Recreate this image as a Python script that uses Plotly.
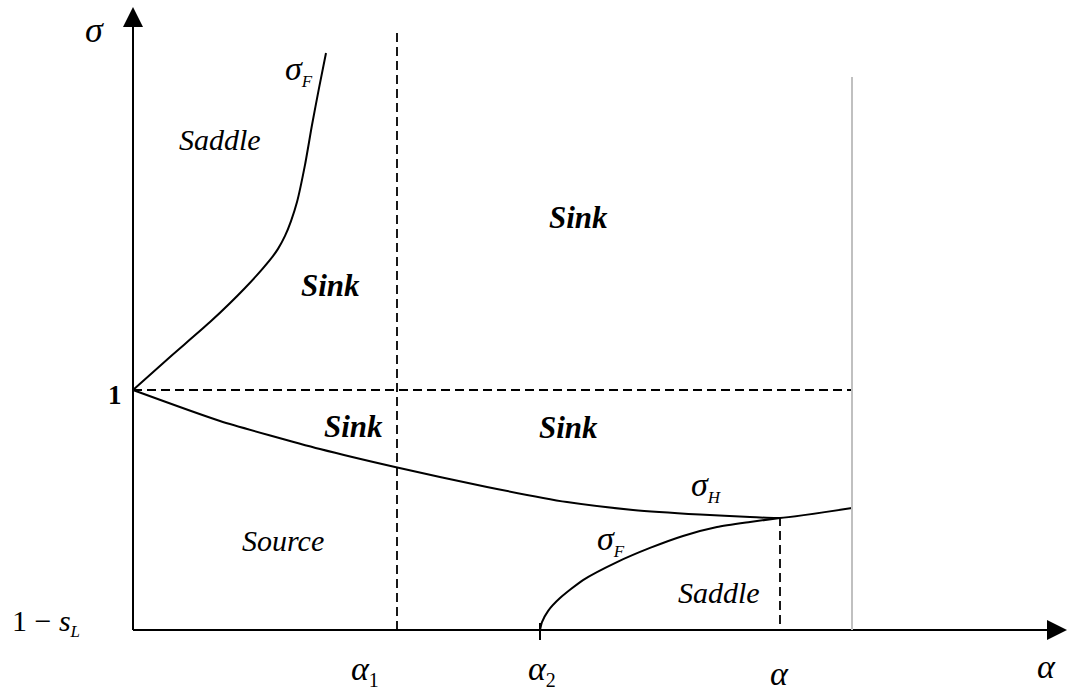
import plotly.graph_objects as go

# ---- data (alpha units, sigma units; 1 - s_L = 0) ----
sigmaF_upper_x = [0.00, 0.37, 0.77, 1.12, 1.37, 1.45, 1.52, 1.58, 1.64, 1.72, 1.79, 1.86, 1.93]
sigmaF_upper_y = [1.000, 1.138, 1.283, 1.425, 1.542, 1.588, 1.642, 1.704, 1.783, 1.938, 2.104, 2.258, 2.404]

sigmaH_x = [0.00, 0.87, 1.87, 2.62, 3.54, 4.34, 5.00, 5.67, 6.17, 6.47, 7.19]
sigmaH_y = [1.000, 0.871, 0.754, 0.679, 0.596, 0.533, 0.500, 0.481, 0.471, 0.467, 0.508]

sigmaF_lower_x = [4.07, 4.09, 4.15, 4.27, 4.50, 4.84, 5.17, 5.50, 5.84, 6.17, 6.47]
sigmaF_lower_y = [0.000, 0.033, 0.079, 0.133, 0.208, 0.283, 0.342, 0.392, 0.429, 0.450, 0.467]

alpha1 = 2.64
alpha2 = 4.07
alpha_star = 6.47
alpha_max = 7.19
sigma_one = 1.0
sigma_star = 0.467
y_top_dash = 2.50
y_top_grey = 2.304
x_axis_end = 9.34
y_axis_end = 2.596

FONT = "Liberation Serif"

fig = go.Figure()

line_style = dict(color="black", width=2)
for xs, ys in [(sigmaF_upper_x, sigmaF_upper_y), (sigmaH_x, sigmaH_y), (sigmaF_lower_x, sigmaF_lower_y)]:
    fig.add_trace(go.Scatter(x=xs, y=ys, mode="lines",
                             line=dict(color="black", width=2, shape="spline", smoothing=0.6),
                             hoverinfo="skip", showlegend=False))

# arrowheads
fig.add_trace(go.Scatter(x=[0], y=[y_axis_end], mode="markers",
                         marker=dict(symbol="arrow-up", size=20, color="black"),
                         hoverinfo="skip", showlegend=False))
fig.add_trace(go.Scatter(x=[x_axis_end], y=[0], mode="markers",
                         marker=dict(symbol="arrow-right", size=20, color="black"),
                         hoverinfo="skip", showlegend=False))

shapes = []
# axes
shapes.append(dict(type="line", x0=0, y0=0, x1=0, y1=y_axis_end - 0.05, line=line_style))
shapes.append(dict(type="line", x0=0, y0=0, x1=x_axis_end - 0.1, y1=0, line=line_style))
# dashed lines
dash = dict(color="black", width=1.8, dash="9px,5px")
shapes.append(dict(type="line", x0=alpha1, y0=0, x1=alpha1, y1=y_top_dash, line=dash))
shapes.append(dict(type="line", x0=0, y0=sigma_one, x1=alpha_max, y1=sigma_one, line=dash))
shapes.append(dict(type="line", x0=alpha_star, y0=0.025, x1=alpha_star, y1=sigma_star, line=dash))
# grey boundary
shapes.append(dict(type="line", x0=alpha_max, y0=0, x1=alpha_max, y1=y_top_grey,
                   line=dict(color="#c0c0c0", width=2)))
# alpha2 tick
shapes.append(dict(type="line", x0=alpha2, y0=-0.042, x1=alpha2, y1=0.029, line=line_style))


def sub(s, size=17):
    return f"<sub><span style='font-size:{size}px'>{s}</span></sub>"


ann = [
    (-0.39, 2.50, "<i>σ</i>", 36),
    (1.66, 2.33, "<i>σ</i>" + sub("<i>F</i>"), 34),
    (0.87, 2.042, "<i>Saddle</i>", 30),
    (1.97, 1.4375, "<b><i>Sink</i></b>", 31),
    (4.45, 1.717, "<b><i>Sink</i></b>", 31),
    (2.20, 0.846, "<b><i>Sink</i></b>", 31),
    (4.35, 0.842, "<b><i>Sink</i></b>", 31),
    (5.73, 0.60, "<i>σ</i>" + sub("<i>H</i>"), 34),
    (4.78, 0.372, "<i>σ</i>" + sub("<i>F</i>"), 34),
    (5.86, 0.158, "<i>Saddle</i>", 30),
    (1.50, 0.375, "<i>Source</i>", 30),
    (-0.18, 0.979, "<b>1</b>", 27),
    (-0.87, 0.030, "1 − <i>s</i>" + sub("<i>L</i>"), 30),
    (2.32, -0.167, "<i>α</i>" + sub("1", 20), 34),
    (4.09, -0.167, "<i>α</i>" + sub("2", 20), 34),
    (6.46, -0.183, "<i>α</i>", 34),
    (9.13, -0.154, "<i>α</i>", 34),
]
annotations = [dict(x=x, y=y, text=t, showarrow=False, xanchor="center", yanchor="middle",
                    font=dict(family=FONT, size=s, color="black")) for x, y, t, s in ann]

fig.update_layout(
    width=1082, height=692,
    margin=dict(l=0, r=0, t=0, b=0),
    paper_bgcolor="white", plot_bgcolor="white",
    font=dict(family=FONT, color="black"),
    xaxis=dict(range=[-1.33, 9.49], visible=False, fixedrange=True),
    yaxis=dict(range=[-0.2583, 2.625], visible=False, fixedrange=True),
    shapes=shapes,
    annotations=annotations,
    showlegend=False,
)

fig.write_html("out.html", config={"displayModeBar": False},
               post_script="document.body.style.margin='0';document.body.style.overflow='hidden';")
